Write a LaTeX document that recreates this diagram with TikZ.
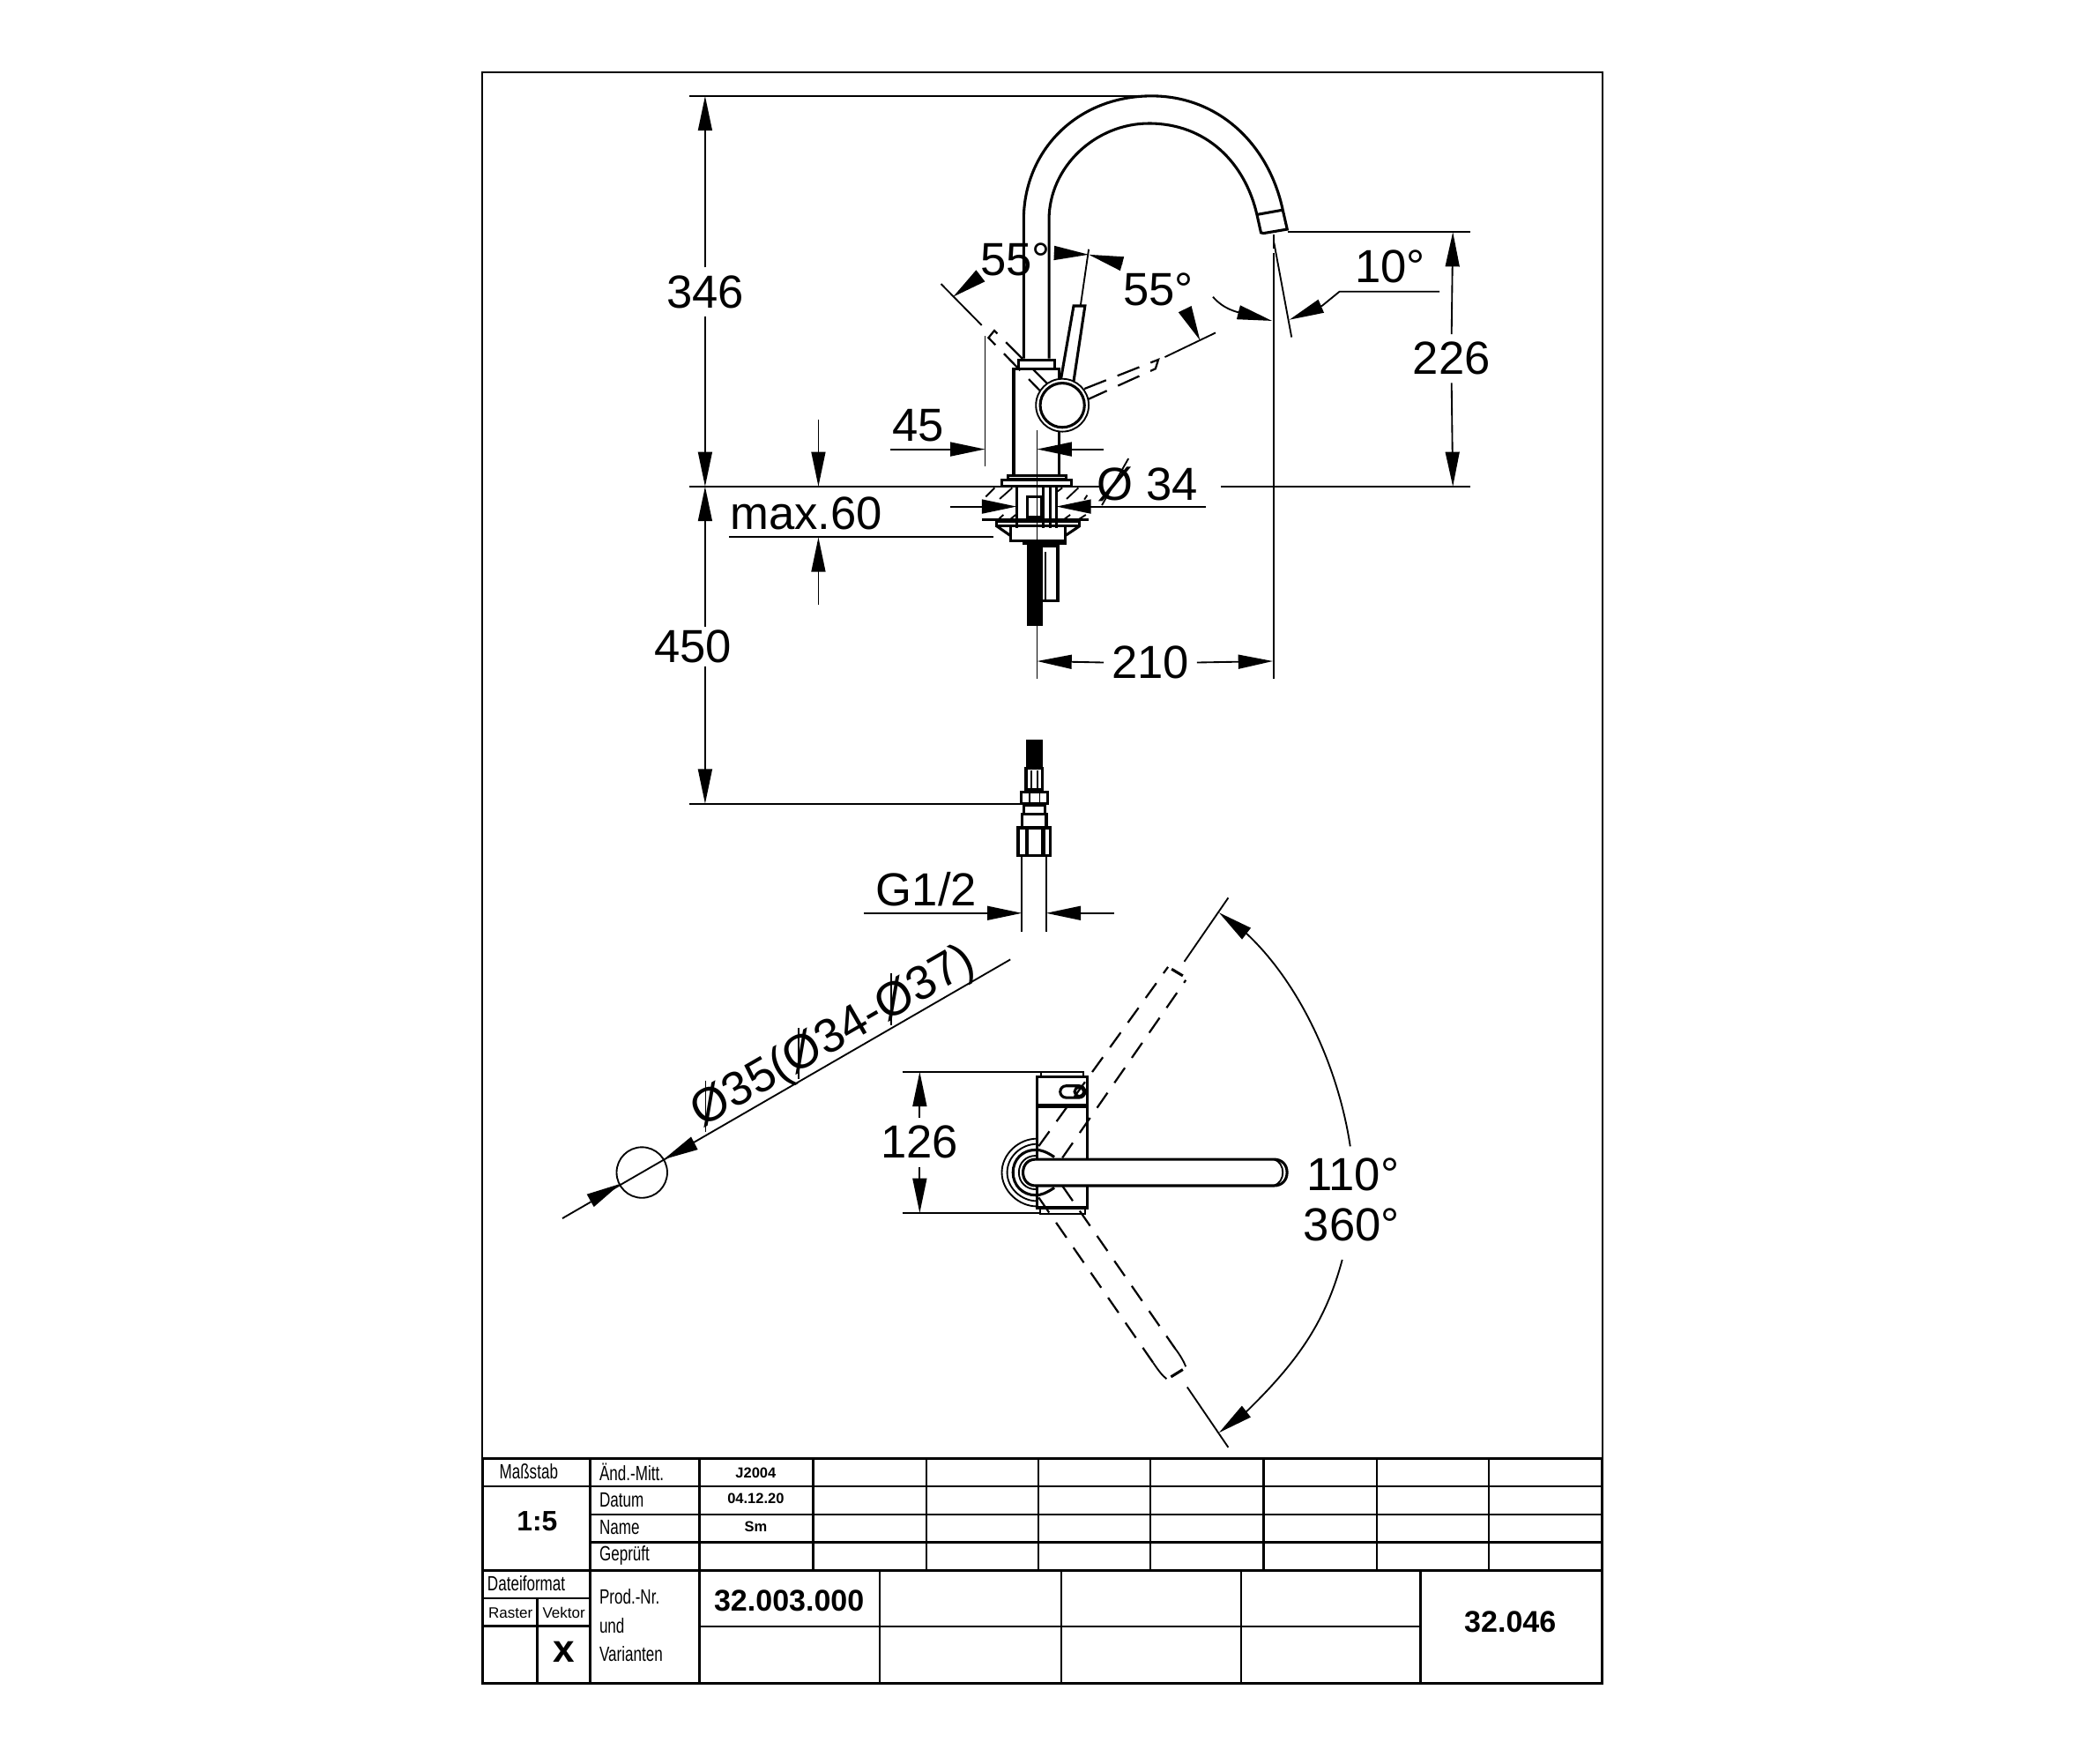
\documentclass[tikz,border=0pt]{standalone}
\usepackage{fontspec}
\usetikzlibrary{arrows.meta}
\setmainfont{Liberation Sans}
\newfontfamily\cadfont[FakeStretch=0.73]{Liberation Sans}
\tikzset{
	part/.style={line width=0.58pt},
	thinpart/.style={line width=0.35pt},
	dashpart/.style={line width=0.42pt, dash pattern=on 5pt off 2.6pt},
	plandash/.style={line width=0.42pt, dash pattern=on 3.9pt off 2.6pt},
	dim/.style={line width=0.35pt},
	dimarrow/.style={line width=0.35pt, -{Triangle[length=2.6mm,width=1.05mm]}},
	dimtext/.style={font=\fontsize{9.9}{11}\selectfont, inner sep=1.5pt},
	cadtext/.style={font=\cadfont\fontsize{4.4}{5}\selectfont, inner sep=0pt, anchor=west},
	boldtext/.style={font=\bfseries\fontsize{3.1}{4}\selectfont, inner sep=0pt},
	titleline/.style={line width=0.55pt},
	cellline/.style={line width=0.42pt}
}
\begin{document}
\begin{tikzpicture}[x=0.1mm,y=-0.1mm]
	\useasboundingbox (0,0) rectangle (1568,1322.7);
	\draw[thinpart] (362,1094) -- (362,54) -- (1202,54) -- (1202,1094);
	% title block
	\draw[titleline] (362,1094) rectangle (1202,1263);
	\draw[titleline] (362,1178) -- (1202,1178);
	\foreach \xc in {443,525,610} \draw[titleline] (\xc,1094) -- (\xc,1178);
	\foreach \xc in {695,779,863,948,1033,1117} \draw[cellline] (\xc,1094) -- (\xc,1178);
	\draw[titleline] (362,1115) -- (443,1115);
	\foreach \yc in {1115,1136,1157} \draw[cellline] (443,\yc) -- (1202,\yc);
	\draw[titleline] (443,1178) -- (443,1263);
	\draw[titleline] (525,1178) -- (525,1263);
	\draw[cellline] (660,1178) -- (660,1263);
	\draw[cellline] (796,1178) -- (796,1263);
	\draw[cellline] (931,1178) -- (931,1263);
	\draw[titleline] (1066,1178) -- (1066,1263);
	\draw[cellline] (525,1220) -- (1066,1220);
	\draw[cellline] (362,1199) -- (443,1199);
	\draw[titleline] (362,1220) -- (443,1220);
	\draw[titleline] (403,1199) -- (403,1263);
	\node[cadtext] (tscale) at (374,1104) {Maßstab};
	\node[cadtext] (tchange) at (449,1104) {Änd.-Mitt.};
	\node[cadtext] (tdate) at (449,1125) {Datum};
	\node[cadtext] (tname) at (449,1146) {Name};
	\node[cadtext] (tcheck) at (449,1167) {Geprüft};
	\node[cadtext] (tformat) at (365,1188) {Dateiformat};
	\node[cadtext] (tprod) at (449,1197.5) {Prod.-Nr.};
	\node[cadtext] (tand) at (449,1219.5) {und};
	\node[cadtext] (tvar) at (449,1240.5) {Varianten};
	\node[inner sep=0pt, font=\fontsize{3.2}{4}\selectfont] (traster) at (383,1210) {Raster};
	\node[inner sep=0pt, font=\fontsize{3.2}{4}\selectfont] (tvektor) at (423,1210) {Vektor};
	\node[boldtext] (tj) at (567,1105) {J2004};
	\node[boldtext] (tdatev) at (567,1124) {04.12.20};
	\node[boldtext] (tsm) at (567,1145) {Sm};
	\node[boldtext, font=\bfseries\fontsize{6}{7}\selectfont] (tratio) at (403,1141) {1:5};
	\node[boldtext, font=\bfseries\fontsize{8.3}{9}\selectfont] (tx) at (423,1239) {x};
	\node[boldtext, font=\bfseries\fontsize{6.4}{8}\selectfont] (tnumber) at (592,1201) {32.003.000};
	\node[boldtext, font=\bfseries\fontsize{6.4}{8}\selectfont] (tsheet) at (1133,1217) {32.046};
	% spout
	\draw[part] (768,269) -- (768,165) .. controls (768,113) and (808,72) .. (864,72)
		.. controls (914,72) and (952,108) .. (962.5,158) -- (965.7,172) -- (948,175) -- (946,174.5) -- (943,161)
		.. controls (934,122) and (905,92.6) .. (862,92.6) .. controls (822,92.6) and (787,125) .. (787,165) -- (787,269);
	\draw[part] (943,161) -- (962.5,157.5);
	\draw[thinpart, dash pattern=on 3pt off 1pt] (955.4,176) -- (955.4,190);
	\draw[dim] (955.4,190) -- (955.4,509);
	\draw[dim] (955.8,182) -- (969,253);
	% body, lever and knob
	\draw[dashpart] (786,288) -- (746,248) -- (741.6,253.4) -- (780.7,293.6);
	\draw[dashpart] (813.5,291.7) -- (869,269.8) -- (866.9,276.6) -- (816,299.7);
	\draw[part] (796,284) -- (805.5,229.5) -- (814,229.5) -- (805.5,286);
	\draw[part, fill=white] (764,276.7) -- (764,270) -- (791.4,270) -- (791.4,276.7);
	\draw[part] (794.7,284) -- (794.7,276.7) -- (760.5,276.7) -- (760.5,357);
	\draw[part] (794.7,323) -- (794.7,357);
	\draw[thinpart, fill=white] (797,304) circle (19.8);
	\draw[part] (797,304) circle (16.6);
	\draw[dim] (816.8,187) -- (810.7,229);
	\draw[dim] (706,213) -- (736.5,244);
	\draw[dim] (873.9,267.9) -- (912,249.6);
	\draw[dim] (739,252) -- (739,350);
	\draw[dim] (778,323) -- (778,509);
	% mounting
	\draw[part] (756,359.3) rectangle (799.6,356.7);
	\draw[part] (751.7,364.9) rectangle (804,359.8);
	\draw[part] (762.7,365) -- (762.7,396);
	\draw[part] (792.5,365) -- (792.5,396);
	\draw[part] (782.6,365) -- (782.6,396);
	\draw[part] (788,365) -- (788,396);
	\draw[part] (770.5,372.6) rectangle (781.5,388);
	\draw[part] (737,390) -- (817,390);
	\draw[part] (747.7,394.6) rectangle (810,391);
	\draw[part] (747.7,394.6) -- (758.3,402);
	\draw[part] (810,394.6) -- (799,402);
	\draw[part] (758.3,394.6) rectangle (799,405.6);
	\draw[part] (768,408) rectangle (799,405.6);
	\draw[part] (781.5,410) rectangle (793.6,450.9);
	\draw[thinpart] (784.5,414) -- (784.5,450);
	\draw[part, fill=black] (771.6,409) rectangle (781.5,468.5);
	\foreach \xa/\ya/\xb/\yb in {739.6/372.6/746.2/366, 750/374.3/759.4/366, 792.5/369.3/797/366,
		800.2/374.3/809/366, 813.5/374.8/815.7/371.5, 748.4/390.2/752.8/386.2, 757.2/390.2/762/386.2,
		798/389.8/802.9/386.2, 809/389.8/814.6/386.2}
		\draw[thinpart] (\xa,\ya) -- (\xb,\yb);
	% connection
	\draw[part, fill=black] (771,556) rectangle (781.5,576.5);
	\draw[part] (769.8,576.5) rectangle (782,592);
	\draw[thinpart] (773.5,578) -- (773.5,591);
	\draw[thinpart] (778.5,578) -- (778.5,591);
	\draw[part] (766,594) rectangle (786,603);
	\draw[thinpart] (772.7,594) -- (772.7,603);
	\draw[thinpart] (780,594) -- (780,603);
	\draw[part] (768,604) rectangle (783.7,610.6);
	\draw[part] (766.7,611) rectangle (785,621);
	\draw[part] (763.8,621) rectangle (788,642);
	\draw[line width=0.9pt] (770.5,621) -- (770.5,642);
	\draw[line width=0.9pt] (782.6,621) -- (782.6,642);
	\draw[thinpart] (766.7,642) -- (766.7,699);
	\draw[thinpart] (784.8,642) -- (784.8,699);
	% dimensions of the elevation
	\draw[dim] (517,72) -- (864,72);
	\draw[dim] (517,365) -- (825,365);
	\draw[dim] (916,365) -- (1103,365);
	\draw[dim] (966,174) -- (1103,174);
	\draw[dim] (517,603) -- (768,603);
	\draw[dim] (547,403) -- (745,403);
	\node[dimtext] (l346) at (529,219) {346};
	\draw[dimarrow] (l346.north) -- (529,72);
	\draw[dimarrow] (l346.south) -- (529,365);
	\node[dimtext] (l450) at (520,485) {450};
	\draw[dimarrow] (529,470) -- (529,365);
	\draw[dimarrow] (529,500) -- (529,603);
	\node[dimtext] (l226) at (1089,269) {226};
	\draw[dimarrow] (l226.north) -- (1090,174);
	\draw[dimarrow] (l226.south) -- (1090,365);
	\node[dimtext] (lmax) at (605,385) {max.60};
	\draw[dimarrow] (614,315) -- (614,365);
	\draw[dimarrow] (614,454) -- (614,403);
	\node[dimtext] (l45) at (689,319) {45};
	\draw[dimarrow] (668,337) -- (739,337);
	\draw[dimarrow] (828,337) -- (778,337);
	\node[dimtext] (l34) at (861,363) {Ø 34};
	\draw[thinpart] (846.6,344) -- (826.7,379);
	\draw[dimarrow] (713,380) -- (762.7,380);
	\draw[dimarrow] (905,380) -- (792.5,380);
	\node[dimtext] (l210) at (863,497) {210};
	\draw[dimarrow] (l210.west) -- (778,496);
	\draw[dimarrow] (l210.east) -- (955,496);
	\node[dimtext] (lg) at (695,667) {G1/2};
	\draw[dimarrow] (648,685) -- (766.7,685);
	\draw[dimarrow] (836,685) -- (784.8,685);
	\node[dimtext] (l55a) at (762,195) {55°};
	\node[dimtext] (l55b) at (869,217) {55°};
	\node[dimtext] (l10) at (1043,200) {10°};
	\draw[dimarrow] (734.6,207.7) -- (715,222.7);
	\draw[dimarrow] (790.8,189.8) -- (816.8,191);
	\draw[dimarrow] (842,197.9) -- (816.8,191);
	\draw[dimarrow] (889.3,232.6) -- (900.3,255.3);
	\draw[dimarrow] (910,222.7) .. controls (918,232) and (928,234) .. (954.3,240.7);
	\draw[dimarrow] (1080,218.7) -- (1005,218.7) -- (992,229.3) -- (967.3,239.9);
	% hole
	\draw[thinpart] (481.6,879.6) circle (19);
	\draw[dim] (421.9,914) -- (758,719.8);
	\draw[dimarrow] (443,900.6) -- (465.6,888);
	\draw[dimarrow] (521,857.6) -- (498,869.7);
	\node[dimtext, font=\fontsize{10.2}{11}\selectfont, rotate=30] (lhole) at (625.6,778.6) {Ø35(Ø34-Ø37)};
	\foreach \xs/\ya/\yb in {529.4/810.6/849.2, 599/771/809.5, 668.7/730.4/768.9}
		\draw[thinpart] (\xs,\ya) -- (\xs,\yb);
	% plan
	\draw[plandash] (779.3,859.8) -- (876.3,725.4);
	\draw[plandash] (797,868.6) -- (889.6,735.3);
	\draw[part] (879,727) -- (887.4,732);
	\draw[plandash] (779.3,898.4) -- (865.3,1022.5);
	\draw[plandash] (797,889.6) -- (881.8,1011.9);
	\draw[thinpart] (865.3,1022.5) .. controls (869,1028) and (872,1032) .. (875.2,1034.4);
	\draw[thinpart] (881.8,1011.9) .. controls (885,1016) and (888,1021) .. (889.6,1025.2);
	\draw[part] (878.5,1032.9) -- (887.4,1027.4);
	\draw[part] (778,808) rectangle (816,906);
	\draw[thinpart] (780.8,808) -- (780.8,804) -- (813,804) -- (813,808);
	\draw[thinpart] (780.4,906) -- (780.4,910.5) -- (814,910.5) -- (814,906);
	\draw[line width=0.9pt] (778,829.4) -- (816,829.4);
	\draw[part, rounded corners=1.25pt] (795.4,814.6) rectangle (814,823.4);
	\draw[part] (809.7,819) circle (3.5);
	\draw[thinpart] (778,854.2) .. controls (764,854.2) and (751.6,866) .. (751.6,879.6) .. controls (751.6,893) and (764,905) .. (778,905);
	\draw[thinpart] (778,858.2) .. controls (766,858.2) and (755.6,868) .. (755.6,879.6) .. controls (755.6,891) and (766,901) .. (778,901);
	\draw[part] (791,868) .. controls (785,864) and (781,862.6) .. (777,862.6) .. controls (767,862.6) and (760,870) .. (760,879.6)
		.. controls (760,889) and (767,896.6) .. (777,896.6) .. controls (781,896.6) and (785,895) .. (791,891);
	\draw[thinpart] (777,867) .. controls (770,867) and (764.4,872) .. (764.4,879.6) .. controls (764.4,887) and (770,892.2) .. (777,892.2);
	\draw[part, fill=white] (777,869.7) -- (955.7,869.7) .. controls (962,869.7) and (965.6,874) .. (965.6,879.6)
		.. controls (965.6,885) and (962,889.5) .. (955.7,889.5) -- (777,889.5) .. controls (771,889.5) and (767.5,885) .. (767.5,879.6)
		.. controls (767.5,874) and (771,869.7) .. (777,869.7) -- cycle;
	\draw[thinpart] (955.7,869.7) .. controls (960,871) and (962.4,875) .. (962.4,879.6) .. controls (962.4,884) and (960,888) .. (955.7,889.5);
	\draw[dim] (888.5,721.4) -- (921.5,673.5);
	\draw[dim] (890.7,1040.6) -- (921.5,1085.8);
	\draw[dim] (677,804) -- (781,804);
	\draw[dim] (677,910) -- (781,910);
	\node[dimtext] (l126) at (690,857) {126};
	\draw[dimarrow] (l126.north) -- (690,804);
	\draw[dimarrow] (l126.south) -- (690,910);
	\node[dimtext] (l110) at (1015,881) {110°};
	\node[dimtext] (l360) at (1014,919) {360°};
	\draw[dimarrow] (1013,860) .. controls (1004,800) and (975,738) .. (935.9,701) -- (914.5,684.6);
	\draw[dimarrow] (1007,945) .. controls (995,990) and (975,1020) .. (935.9,1058.2) -- (914.5,1074.8);
\end{tikzpicture}
\end{document}
